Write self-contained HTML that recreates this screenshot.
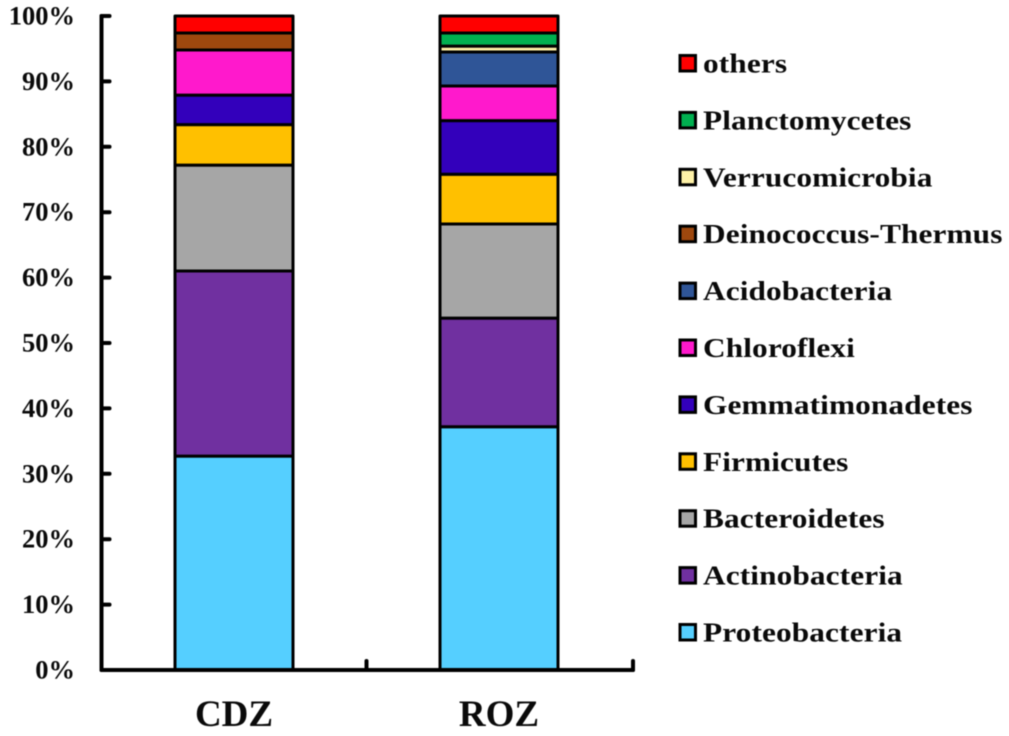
<!DOCTYPE html>
<html lang="en">
<head>
<meta charset="utf-8">
<title>Phylum composition: CDZ and ROZ</title>
<style>
html,body{margin:0;padding:0;background:#fff;width:1009px;height:736px;overflow:hidden}
svg{display:block;filter:blur(0.5px)}
text{font-family:"Liberation Serif",serif;font-weight:bold;fill:#0a0a0a}
</style>
</head>
<body>
<svg id="chart" xmlns="http://www.w3.org/2000/svg" width="1009" height="736" viewBox="0 0 1009 736"></svg>
<script>
const categories = ['CDZ', 'ROZ'];
const seriesNames = ['Proteobacteria', 'Actinobacteria', 'Bacteroidetes', 'Firmicutes', 'Gemmatimonadetes', 'Chloroflexi', 'Acidobacteria', 'Deinococcus-Thermus', 'Verrucomicrobia', 'Planctomycetes', 'others'];
const seriesColors = ['#55CFFF', '#7030A0', '#A6A6A6', '#FFC000', '#3300BB', '#FF19CC', '#2F5597', '#9E480E', '#FFF2A8', '#00B050', '#FF0000'];
const valuesCDZ = [32.7, 28.3, 16.2, 6.2, 4.5, 6.9, 0, 2.6, 0, 0, 2.6];
const valuesROZ = [37.2, 16.6, 14.4, 7.6, 8.2, 5.3, 5.2, 0, 0.9, 2.0, 2.6];
const yTickValues = [0, 10, 20, 30, 40, 50, 60, 70, 80, 90, 100];

const svg = document.getElementById('chart');
const NS = 'http://www.w3.org/2000/svg';
const plot = { left: 101.5, right: 631.5, top: 16, bottom: 670 };
const barWidth = 118;
const slot = (plot.right - plot.left) / categories.length;
function yScale(v) { return plot.bottom - (v / 100) * (plot.bottom - plot.top); }
function xCenter(i) { return plot.left + slot * (i + 0.5); }
function make(tag, attrs, parent) {
  const el = document.createElementNS(NS, tag);
  for (const k in attrs) el.setAttribute(k, attrs[k]);
  (parent || svg).appendChild(el);
  return el;
}

/* bars */
const allValues = [valuesCDZ, valuesROZ];
categories.forEach(function (cat, c) {
  const group = make('g', {});
  
  
  let acc = 0;
  allValues[c].forEach(function (v, s) {
    if (v <= 0) return;
    const y1 = yScale(acc + v);
    const y0 = yScale(acc);
    acc += v;
    const seg = make('rect', {
      x: xCenter(c) - barWidth / 2,
      y: y1,
      width: barWidth,
      height: y0 - y1,
      fill: seriesColors[s],
      stroke: '#000',
      'stroke-width': 3,
      'stroke-linejoin': 'round'
    }, group);
    
    
  });
});

/* y axis */
const yAxis = make('g', { stroke: '#000', 'stroke-width': 4, 'stroke-linecap': 'round', fill: 'none' });


const yLine = make('line', { x1: plot.left, y1: plot.top, x2: plot.left, y2: plot.bottom }, yAxis);


yTickValues.forEach(function (v) {
  const y = yScale(v);
  if (v > 0) {
    const tick = make('line', { x1: plot.left, y1: y, x2: plot.left + 8, y2: y }, yAxis);
    
    
  }
  const label = make('text', { x: 75, y: y + 8.5, 'text-anchor': 'end', 'font-size': 26.5 });
  label.textContent = v + '%';
  
  
});

/* x axis */
const xAxis = make('g', { stroke: '#000', 'stroke-width': 4, 'stroke-linecap': 'round', fill: 'none' });


const xAxisEnd = plot.right + 1.5;
const xLine = make('line', { x1: plot.left, y1: plot.bottom, x2: xAxisEnd, y2: plot.bottom }, xAxis);


for (let i = 1; i <= categories.length; i++) {
  const tx = i === categories.length ? xAxisEnd : plot.left + slot * i;
  const tick = make('line', { x1: tx, y1: plot.bottom, x2: tx, y2: plot.bottom - 9 }, xAxis);
  
  
}
categories.forEach(function (cat, c) {
  const label = make('text', { x: xCenter(c), y: 726, 'text-anchor': 'middle', 'font-size': 37 });
  label.textContent = cat;
  
  
});

/* legend: listed top-down, reverse of stack order */
const legend = make('g', {});


const legendTop = 63.5;
const legendStep = 56.9;
seriesNames.forEach(function (name, s) {
  const row = seriesNames.length - 1 - s;
  const cy = legendTop + row * legendStep;
  const entry = make('g', {}, legend);
  
  
  const swatch = make('rect', {
    x: 680, y: cy - 8, width: 15.5, height: 15.5,
    fill: seriesColors[s], stroke: '#000', 'stroke-width': 3
  }, entry);
  
  
  const text = make('text', {
    transform: 'translate(703 ' + (cy + 9) + ') scale(1.16 1)',
    x: 0, y: 0, 'font-size': 27, 'letter-spacing': 0.1
  }, entry);
  text.textContent = name;
  
  
});
</script>
</body>
</html>
